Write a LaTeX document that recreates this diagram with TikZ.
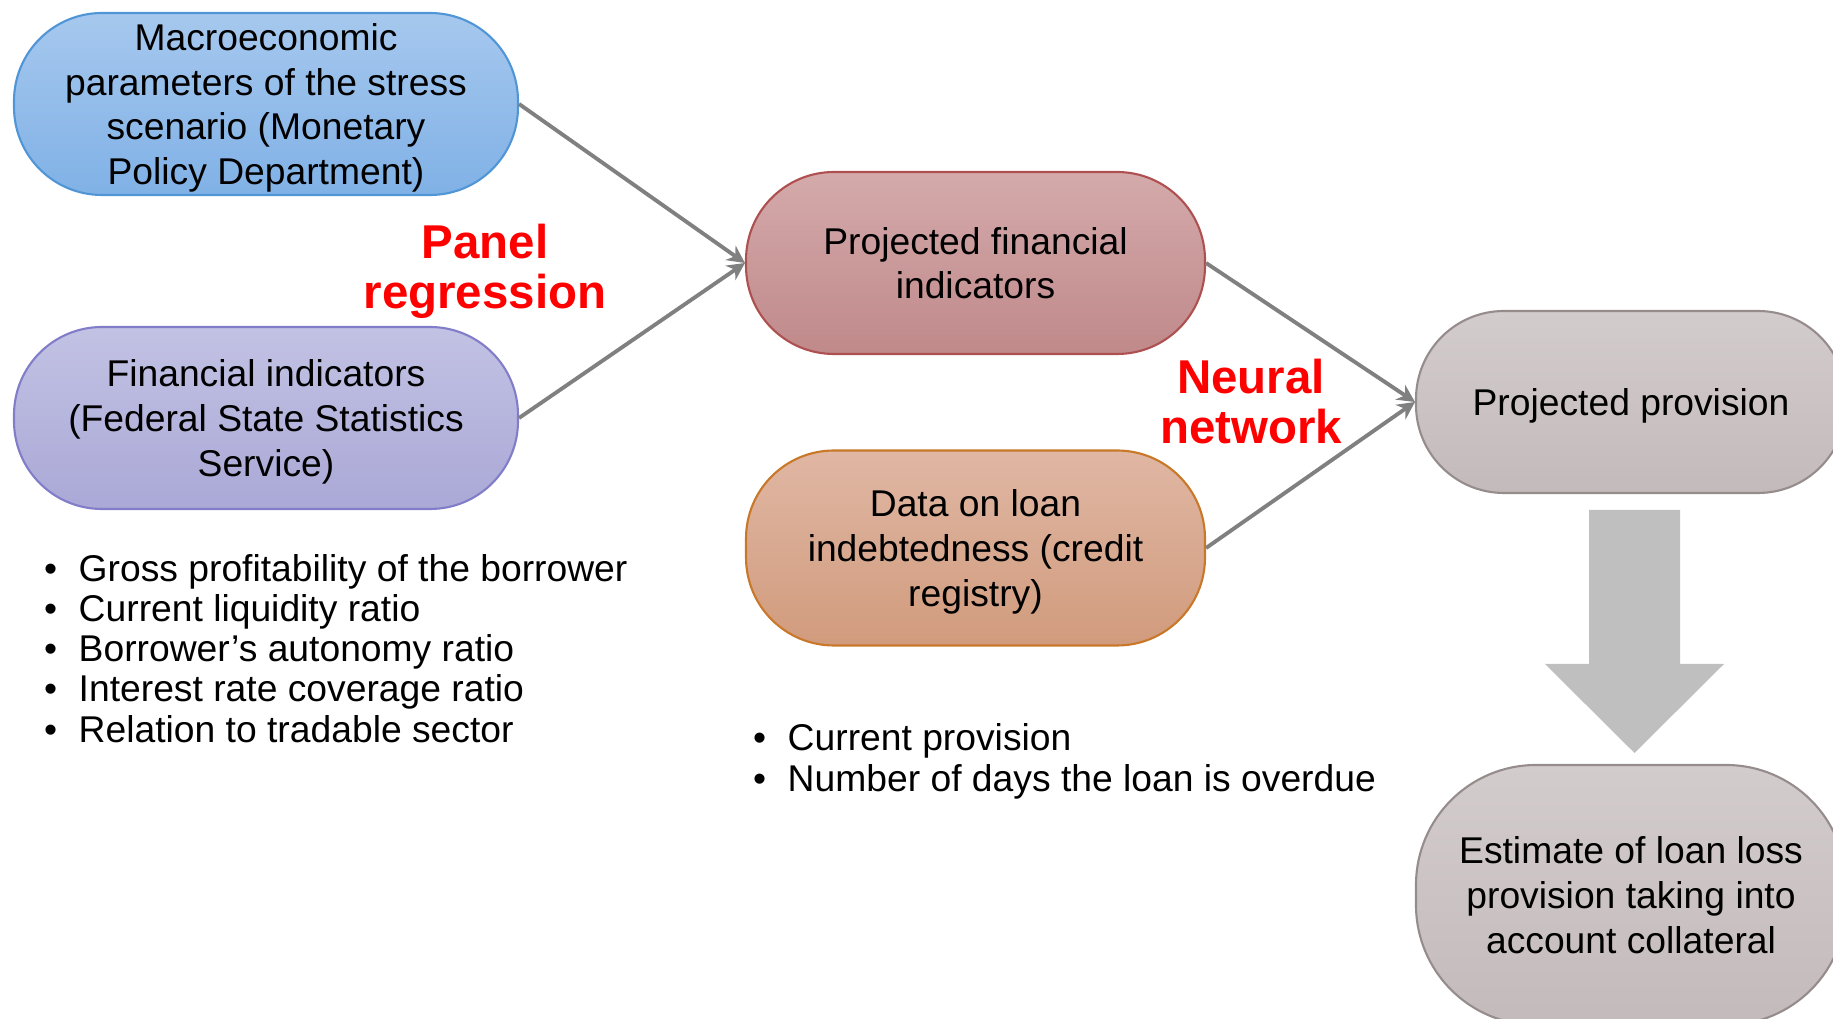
\documentclass[tikz,border=0pt]{standalone}
\usepackage{fontspec}
\setmainfont{Liberation Sans}
\usepackage{tikz}
\usetikzlibrary{arrows.meta, positioning}
\usepackage{xcolor}

\definecolor{macroTop}{RGB}{166,200,238}
\definecolor{macroBot}{RGB}{128,177,230}
\definecolor{macroLine}{RGB}{80,150,215}
\definecolor{finTop}{RGB}{194,194,228}
\definecolor{finBot}{RGB}{170,168,214}
\definecolor{finLine}{RGB}{130,125,200}
\definecolor{projTop}{RGB}{212,170,171}
\definecolor{projBot}{RGB}{192,137,138}
\definecolor{projLine}{RGB}{175,80,80}
\definecolor{loanTop}{RGB}{224,183,164}
\definecolor{loanBot}{RGB}{209,155,125}
\definecolor{loanLine}{RGB}{200,120,40}
\definecolor{provTop}{RGB}{211,204,204}
\definecolor{provBot}{RGB}{195,186,187}
\definecolor{provLine}{RGB}{150,140,140}
\definecolor{linkGray}{RGB}{128,128,128}
\definecolor{blockGray}{RGB}{191,191,191}

\begin{document}
\begin{tikzpicture}[
    box/.style={rounded corners=0.88cm, minimum height=1.82cm, inner sep=0pt, text depth=-1.3pt,
        align=center, line width=0.6pt, font=\fontsize{10.6}{12.7}\selectfont},
    link/.style={draw=linkGray, line width=1.1pt, -{Stealth[length=5pt, width=5pt]}},
    method/.style={text=red, align=center, font=\fontsize{13.5}{14.2}\selectfont\bfseries},
    item/.style={anchor=base west, inner sep=0pt, font=\fontsize{10.6}{12.7}\selectfont}
]
    \useasboundingbox (0,0) rectangle (18.33,10.19);

    % Inputs
    \node[box, minimum width=5.04cm, top color=macroTop, bottom color=macroBot, draw=macroLine]
        (macro) at (2.66,9.15) {Macroeconomic\\parameters of the stress\\scenario (Monetary\\Policy Department)};
    \node[box, minimum width=5.04cm, top color=finTop, bottom color=finBot, draw=finLine]
        (fin) at (2.66,6.01) {Financial indicators\\(Federal State Statistics\\Service)};

    % Middle column
    \node[box, minimum width=4.59cm, top color=projTop, bottom color=projBot, draw=projLine]
        (proj) at (9.755,7.56) {Projected financial\\indicators};
    \node[box, minimum width=4.59cm, minimum height=1.95cm, top color=loanTop, bottom color=loanBot, draw=loanLine]
        (loan) at (9.755,4.71) {Data on loan\\indebtedness (credit\\registry)};

    % Outputs
    \node[box, minimum width=4.30cm, top color=provTop, bottom color=provBot, draw=provLine]
        (prov) at (16.31,6.17) {Projected provision};
    \node[box, minimum width=4.30cm, minimum height=2.6cm, rounded corners=1.2cm,
        top color=provTop, bottom color=provBot, draw=provLine]
        (est) at (16.31,1.24) {Estimate of loan loss\\provision taking into\\account collateral};

    % Methods
    \node[method] (panel) at (4.85,7.48) {Panel\\regression};
    \node[method] (neural) at (12.51,6.17) {Neural\\network};

    % Arrows
    \draw[link] (macro.east) -- (proj.west);
    \draw[link] (fin.east) -- (proj.west);
    \draw[link] (proj.east) -- (prov.west);
    \draw[link] (loan.east) -- (prov.west);

    % Block arrow down
    \fill[blockGray] (15.89,5.09) -- (16.80,5.09) -- (16.80,3.55) -- (17.24,3.55)
        -- (16.345,2.66) -- (15.45,3.55) -- (15.89,3.55) -- cycle;

    % Lists
    \foreach \txt [count=\k] in {Gross profitability of the borrower, Current liquidity ratio,
        Borrower’s autonomy ratio, Interest rate coverage ratio, Relation to tradable sector}
        \node[item] (finitem\k) at (0.435,4.78-0.4025*\k) {\textbullet\hspace{0.215cm}\txt};
    \foreach \txt [count=\k] in {Current provision, Number of days the loan is overdue}
        \node[item] (loanitem\k) at (7.525,3.09-0.41*\k) {\textbullet\hspace{0.215cm}\txt};
\end{tikzpicture}
\end{document}
